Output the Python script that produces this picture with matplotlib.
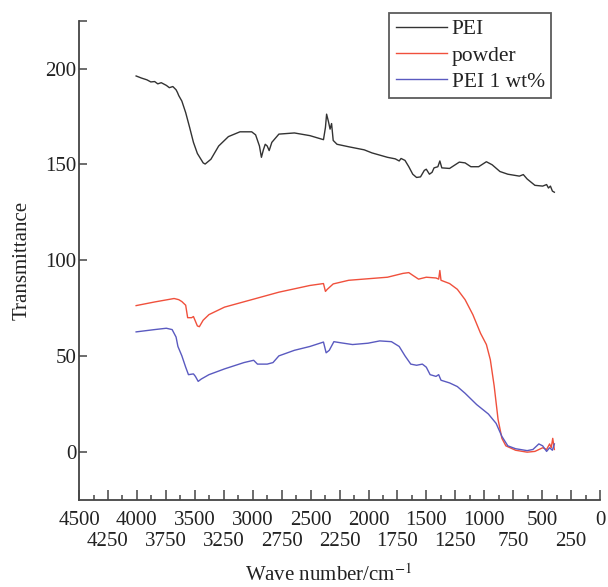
import numpy as np
import matplotlib
matplotlib.use("Agg")
import matplotlib.pyplot as plt

plt.rcParams["font.family"] = ["Liberation Serif", "DejaVu Serif"]
plt.rcParams["mathtext.fontset"] = "stix"

# PEI (black)
pei_x = [4007, 3960, 3914, 3880, 3847, 3820, 3790, 3746, 3720, 3690, 3662, 3650, 3639,
         3612, 3579, 3545, 3512, 3478, 3428, 3411, 3361, 3294, 3210, 3110, 3009, 2975,
         2942, 2925, 2908, 2892, 2875, 2858, 2835, 2774, 2640, 2506, 2389, 2372, 2362,
         2346, 2332, 2319, 2305, 2272, 2171, 2037, 1970, 1836, 1769, 1735, 1719, 1685,
         1652, 1618, 1585, 1551, 1518, 1501, 1474, 1451, 1434, 1401, 1384, 1367, 1300,
         1216, 1166, 1116, 1049, 982, 932, 865, 797, 697, 663, 630, 563, 496, 462, 446,
         429, 412, 395]
pei_y = [196.1, 195.0, 194.1, 193.0, 193.2, 192.0, 192.6, 191.2, 190.0, 190.6, 188.9, 187.5,
         185.9, 183.0, 177.0, 169.3, 161.5, 155.7, 150.8, 150.2, 152.7, 159.6, 164.5,
         167.0, 167.0, 165.4, 159.6, 153.7, 157.6, 160.5, 159.6, 157.2, 161.5, 165.8,
         166.4, 165.0, 162.9, 169.3, 176.2, 172.3, 168.4, 171.3, 162.5, 160.5, 159.2,
         157.6, 156.0, 153.7, 152.9, 151.8, 153.1, 152.1, 148.8, 144.9, 143.2, 143.5,
         146.9, 147.5, 144.9, 145.9, 148.2, 148.8, 151.8, 148.2, 147.9, 151.2, 150.8,
         148.8, 148.8, 151.4, 149.8, 146.3, 144.9, 143.9, 144.7, 142.4, 139.1, 138.7,
         139.5, 137.7, 138.7, 136.1, 135.5]

# powder (red)
powder_x = [4007, 3847, 3679, 3639, 3612, 3579, 3562, 3528, 3512, 3478, 3461, 3428, 3378,
            3244, 3009, 2774, 2506, 2389, 2372, 2356, 2305, 2171, 1836, 1702, 1652, 1618,
            1568, 1501, 1417, 1394, 1384, 1374, 1300, 1233, 1166, 1099, 1032, 982, 948,
            915, 881, 848, 814, 730, 630, 563, 496, 462, 436, 422, 409, 395]
powder_y = [76.4, 78.3, 80.1, 79.5, 78.5, 76.6, 70.1, 70.1, 70.7, 65.8, 65.4, 68.8, 71.7,
            75.6, 79.5, 83.4, 86.9, 87.9, 83.8, 84.9, 87.7, 89.6, 91.2, 93.2, 93.6, 92.2,
            90.2, 91.2, 90.8, 90.2, 94.7, 89.6, 87.9, 84.9, 79.5, 71.7, 61.9, 56.1, 48.2,
            34.6, 17.0, 7.2, 3.3, 1.0, 0.0, 0.4, 2.3, 1.4, 4.3, 2.3, 7.2, 1.4]

# PEI 1 wt% (blue)
pei1_x = [4007, 3847, 3746, 3696, 3662, 3646, 3612, 3579, 3555, 3512, 3495, 3471, 3445,
          3378, 3244, 3076, 2992, 2959, 2875, 2825, 2774, 2640, 2506, 2389, 2366, 2339,
          2299, 2238, 2138, 2004, 1903, 1802, 1735, 1685, 1635, 1585, 1535, 1501, 1468,
          1417, 1394, 1374, 1300, 1233, 1166, 1066, 965, 898, 848, 797, 730, 630, 580,
          529, 496, 462, 436, 412, 395]
pei1_y = [62.7, 63.9, 64.6, 63.9, 60.0, 55.1, 50.2, 44.3, 40.4, 40.8, 39.5, 36.9, 38.1,
          40.4, 43.4, 46.7, 47.9, 45.9, 45.9, 46.7, 50.2, 53.1, 55.1, 57.4, 51.8, 53.1,
          57.6, 57.0, 56.1, 56.8, 58.0, 57.6, 55.1, 50.2, 45.9, 45.3, 45.9, 44.3, 40.4,
          39.5, 40.4, 37.5, 36.1, 34.2, 30.7, 24.8, 19.9, 15.0, 8.2, 3.3, 1.8, 0.8, 1.4,
          4.3, 3.3, 0.4, 2.3, 1.0, 4.3]

major_ticks = np.arange(0, 4501, 250)
tick_labels = [str(t) for t in major_ticks]

fig = plt.figure(figsize=(6.08, 5.87), dpi=100)
ax = fig.add_axes([0.130, 0.148, 0.857, 0.817])

ax.plot(pei_x, pei_y, color="#333333", lw=1.0, label="PEI")
ax.plot(powder_x, powder_y, color="#f0503c", lw=1.0, label="powder")
ax.plot(pei1_x, pei1_y, color="#5a5ac0", lw=1.0, label="PEI 1 wt%")

ax.set_xlim(4500, 0)
ax.set_ylim(-25, 225)
ax.set_xticks(major_ticks)
ax.set_xticklabels(tick_labels)
ax.set_xticks(np.arange(125, 4500, 250), minor=True)
ax.set_yticks([0, 50, 100, 150, 200])
ax.set_yticks([225], minor=True)

for s in ["top", "right"]:
    ax.spines[s].set_visible(False)
for s in ["left", "bottom"]:
    ax.spines[s].set_color("#444444")
    ax.spines[s].set_linewidth(1.3)

ax.tick_params(axis="x", which="major", direction="in", length=7, width=1.1,
               colors="#444444", labelsize=15, labelcolor="#222222", pad=8)
ax.tick_params(axis="x", which="minor", direction="in", length=3.5, width=1.1,
               colors="#444444")
ax.tick_params(axis="y", which="both", direction="in", length=6, width=1.1,
               colors="#444444", labelsize=15, labelcolor="#222222", pad=2)

# second row of x labels (the 250 offsets) sits lower
for t, v in zip(ax.xaxis.get_major_ticks(), major_ticks):
    if v % 500 != 0:
        t.set_pad(23)

ax.set_xlabel("Wave number/cm$^{-1}$", fontsize=15, color="#222222", va="center")
ax.xaxis.set_label_coords(0.478, -0.156)
ax.set_ylabel("Transmittance", fontsize=15, color="#222222", va="center")
ax.yaxis.set_label_coords(-0.11, 0.5)

leg = ax.legend(loc="upper left", bbox_to_anchor=(0.64, 0.978),
                bbox_transform=fig.transFigure, fontsize=15.5, frameon=True,
                fancybox=False, edgecolor="#333333", handlelength=2.4,
                handletextpad=0.2, borderpad=0.3, labelspacing=0.28,
                borderaxespad=0)
leg.get_frame().set_linewidth(1.3)
for t in leg.get_texts():
    t.set_color("#222222")

fig.savefig("out.png", dpi=100)
